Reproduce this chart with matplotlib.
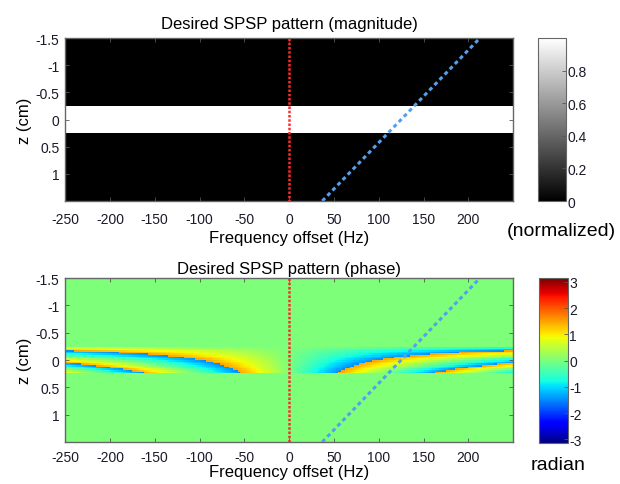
import numpy as np
import matplotlib.pyplot as plt

plt.rcParams["font.family"] = ["Liberation Sans", "DejaVu Sans"]
plt.rcParams["axes.unicode_minus"] = False

# axes ranges / ticks
freq_lim = [-250, 250]
z_lim = [-1.5, 1.5]
freq_ticks = [-250, -200, -150, -100, -50, 0, 50, 100, 150, 200]
z_ticks = [-1.5, -1, -0.5, 0, 0.5, 1]
z_tick_labels = ["-1.5", "-1", "-0.5", "0", "0.5", "1"]
mag_ticks = [0, 0.2, 0.4, 0.6, 0.8]
mag_tick_labels = ["0", "0.2", "0.4", "0.6", "0.8"]
phase_ticks = [-3, -2, -1, 0, 1, 2, 3]

# desired pattern parameters
slab_half = 0.24      # half thickness of the excited slab, cm
phase_rate = 0.114    # rad / (Hz cm)
phase_z0 = -0.28      # cm, where the linear phase is zero
phase_span = 1.5      # rad, colour span seen inside the slab

# overlay lines
water_f = [0, 0]
water_z = [-1.5, 1.5]
fat_f = [37, 213]
fat_z = [1.5, -1.5]

f_edges = np.arange(-250, 251, 2.5)
z_edges = np.linspace(-1.5, 1.5, 101)
fc = 0.5 * (f_edges[1:] + f_edges[:-1])
zc = 0.5 * (z_edges[1:] + z_edges[:-1])
F, Z = np.meshgrid(fc, zc)
inside = np.abs(Z) <= slab_half
mag = inside.astype(float)
wrapped = np.angle(np.exp(-1j * phase_rate * F * (Z - phase_z0)))
phase = wrapped / np.pi * phase_span * inside

fig = plt.figure(figsize=(6.2, 4.85), dpi=100)
ax1 = fig.add_axes([0.105, 0.5835, 0.7226, 0.336])
ax2 = fig.add_axes([0.105, 0.0866, 0.7226, 0.338])
cax1 = fig.add_axes([0.868, 0.5835, 0.045, 0.336])
cax2 = fig.add_axes([0.869, 0.0845, 0.047, 0.340])

m1 = ax1.pcolormesh(f_edges, z_edges, mag, cmap="gray", vmin=0, vmax=1, rasterized=True)
m2 = ax2.pcolormesh(f_edges, z_edges, phase, cmap="jet", vmin=-np.pi, vmax=np.pi, rasterized=True)

titles = ["Desired SPSP pattern (magnitude)", "Desired SPSP pattern (phase)"]
pads = [7, 4]
xpads = [8, 6]
labelpads = [3, 0]
for ax, t, p, xp, lp in zip([ax1, ax2], titles, pads, xpads, labelpads):
    ax.plot(water_f, water_z, color="#ff2a2a", lw=1.8, linestyle=(0, (1, 0.7)))
    ax.plot(fat_f, fat_z, color="#55a0ee", lw=2.2, linestyle=(0, (1.3, 1.1)))
    ax.set_xlim(freq_lim)
    ax.set_ylim(z_lim[1], z_lim[0])
    ax.set_xticks(freq_ticks)
    ax.set_yticks(z_ticks)
    ax.set_yticklabels(z_tick_labels)
    ax.tick_params(direction="in", top=True, right=True, length=3, width=0.6,
                   labelsize=10, color="#555555", labelcolor="#1a1a2a", pad=4)
    ax.tick_params(axis="x", pad=xp)
    ax.set_xlabel("Frequency offset (Hz)", fontsize=12, labelpad=lp)
    ax.set_ylabel("z (cm)", fontsize=12, labelpad=3)
    ax.set_title(t, fontsize=12, pad=p)
    for s in ax.spines.values():
        s.set_color("#666666")
        s.set_linewidth(1.0)

cb1 = fig.colorbar(m1, cax=cax1, ticks=mag_ticks)
cb1.ax.set_yticklabels(mag_tick_labels)
cb2 = fig.colorbar(m2, cax=cax2, ticks=phase_ticks)
for cb in [cb1, cb2]:
    cb.ax.tick_params(direction="in", length=3, width=0.6, labelsize=10,
                      color="#555555", labelcolor="#1a1a2a", pad=1)
    cb.outline.set_edgecolor("#666666")

fig.text(0.906, 0.522, "(normalized)", fontsize=14, ha="center", va="center")
fig.text(0.90, 0.041, "radian", fontsize=14, ha="center", va="center")

fig.savefig("out.png", dpi=100)
